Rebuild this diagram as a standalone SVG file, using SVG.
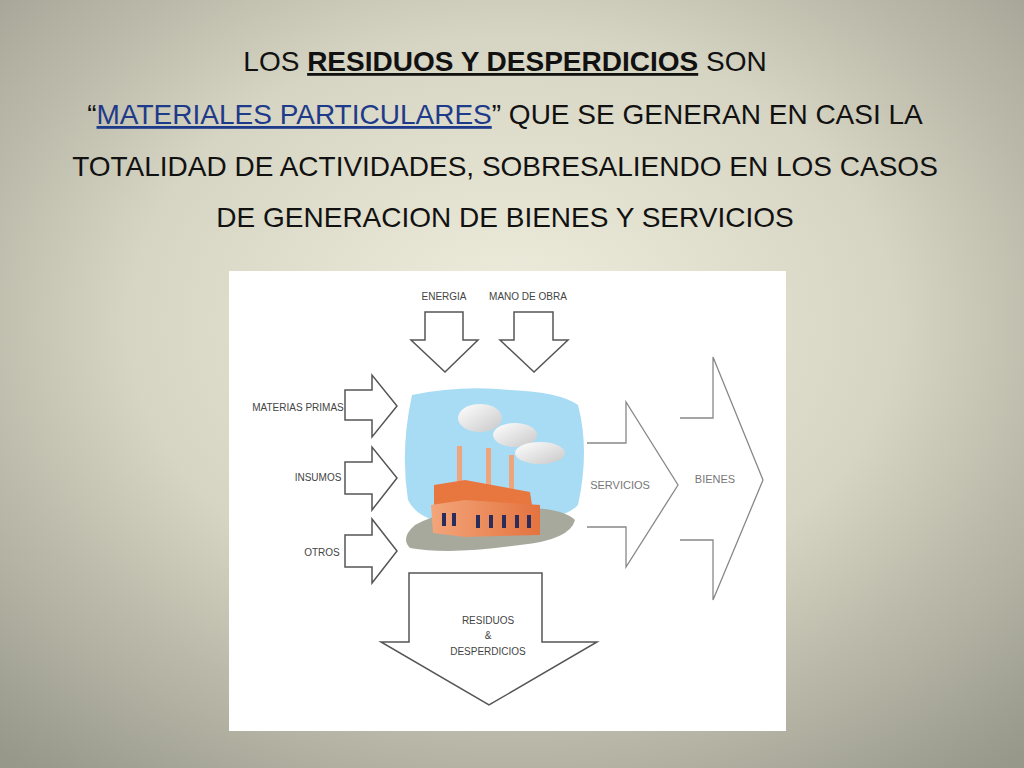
<svg xmlns="http://www.w3.org/2000/svg" width="1024" height="768" viewBox="0 0 1024 768">
<defs>
<radialGradient id="bg" cx="0.5" cy="0.42" r="0.75">
<stop offset="0" stop-color="#efeddd"/><stop offset="0.5" stop-color="#d6d4c2"/><stop offset="1" stop-color="#97978a"/>
</radialGradient>
<linearGradient id="wall" x1="0" y1="0" x2="1" y2="0"><stop offset="0" stop-color="#f3a57a"/><stop offset="1" stop-color="#e4733f"/></linearGradient>
<linearGradient id="smoke" x1="0" y1="0" x2="1" y2="1"><stop offset="0" stop-color="#ffffff"/><stop offset="1" stop-color="#c8c8c8"/></linearGradient>
</defs>
<style>
.t{font-family:"Liberation Sans",Arial,sans-serif;font-size:28px;fill:#111}
.bl{fill:#1e3a8a}
.a{fill:#fff;stroke:#555;stroke-width:1.5}
.l{font-family:"Liberation Sans",Arial,sans-serif;font-size:10px;fill:#444}
.g{font-family:"Liberation Sans",Arial,sans-serif;font-size:11px;fill:#777}
</style>
<rect width="1024" height="768" fill="url(#bg)"/>
<g id="title">
<text class="t" x="505" y="71" text-anchor="middle">LOS <tspan font-weight="bold" text-decoration="underline">RESIDUOS Y DESPERDICIOS</tspan> SON</text>
<text class="t" x="505" y="124" text-anchor="middle">“<tspan class="bl" text-decoration="underline">MATERIALES PARTICULARES</tspan>” QUE SE GENERAN EN CASI LA</text>
<text class="t" x="505" y="176" text-anchor="middle">TOTALIDAD DE ACTIVIDADES, SOBRESALIENDO EN LOS CASOS</text>
<text class="t" x="505" y="227" text-anchor="middle">DE GENERACION DE BIENES Y SERVICIOS</text>
</g>
<rect x="229" y="271" width="557" height="460" fill="#ffffff"/>
<g id="factory">
<path d="M412 395 Q460 385 510 390 Q560 392 578 405 Q590 450 578 505 Q560 525 470 525 Q420 525 408 500 Q400 450 412 395Z" fill="#a8dcf4"/>
<path d="M415 525 Q440 510 500 508 Q560 505 575 520 Q570 540 520 545 Q450 555 410 548 Q400 538 415 525Z" fill="#a7a99c"/>
<g fill="url(#smoke)"><ellipse cx="480" cy="418" rx="22" ry="14"/><ellipse cx="515" cy="435" rx="22" ry="12"/><ellipse cx="540" cy="453" rx="25" ry="11"/></g>
<g fill="#eea57c"><rect x="457" y="446" width="5" height="40"/><rect x="486" y="448" width="5" height="38"/><rect x="509" y="455" width="5" height="34"/></g>
<path d="M434 485 L465 480 L530 492 L532 505 L434 505Z" fill="#e8773f"/>
<path d="M431 505 L465 500 L540 505 L540 535 L465 537 L433 533Z" fill="url(#wall)"/>
<g fill="#2a2d5c"><rect x="442" y="513" width="4" height="13"/><rect x="452" y="513" width="4" height="13"/><rect x="476" y="515" width="4" height="13"/><rect x="489" y="515" width="4" height="13"/><rect x="502" y="515" width="4" height="13"/><rect x="515" y="515" width="4" height="13"/><rect x="527" y="515" width="4" height="13"/></g>
</g>
<g id="connectors">
<path class="a" d="M425 312 H463 V340 H478 L445 372 L411 340 H425Z"/>
<path class="a" d="M514 312 H553 V340 H568 L534 372 L500 340 H514Z"/>
<path class="a" d="M345 390 H372 V375 L397 406 L372 437 V420 H345Z"/>
<path class="a" d="M345 462 H372 V447 L397 478 L372 510 V494 H345Z"/>
<path class="a" d="M345 535 H372 V519 L397 551 L372 583 V567 H345Z"/>
<path class="a" d="M409 573 H542 V642 H597 L489 705 L381 642 H409Z"/>
<path fill="none" stroke="#888" stroke-width="1.3" d="M587 443 H626 V402 L678 485 L626 567 V527 H587"/>
<path fill="none" stroke="#888" stroke-width="1.3" d="M680 418 H713 V357 L763 480 L713 600 V540 H680"/>
</g>
<g id="labels">
<text class="l" x="444" y="300" text-anchor="middle">ENERGIA</text>
<text class="l" x="528" y="300" text-anchor="middle">MANO DE OBRA</text>
<text class="l" x="298" y="411" text-anchor="middle">MATERIAS PRIMAS</text>
<text class="l" x="318" y="481" text-anchor="middle">INSUMOS</text>
<text class="l" x="322" y="556" text-anchor="middle">OTROS</text>
<text class="l" x="488" y="624" text-anchor="middle">RESIDUOS</text>
<text class="l" x="488" y="639" text-anchor="middle">&amp;</text>
<text class="l" x="488" y="655" text-anchor="middle">DESPERDICIOS</text>
<text class="g" x="620" y="489" text-anchor="middle">SERVICIOS</text>
<text class="g" x="715" y="483" text-anchor="middle">BIENES</text>
</g>
</svg>
